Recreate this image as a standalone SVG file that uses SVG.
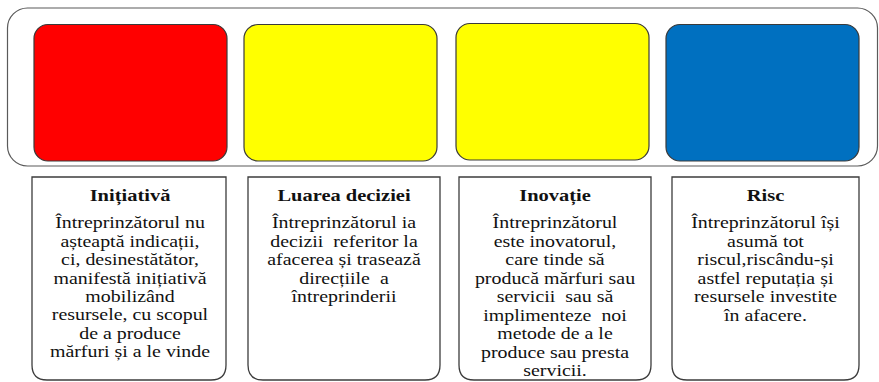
<svg xmlns="http://www.w3.org/2000/svg" width="879" height="382" viewBox="0 0 879 382">
<style>
.frame{fill:#ffffff;stroke:#5a5a5a;stroke-width:1.2}
.tile{stroke:#3a3a3a;stroke-width:1.2}
.card{fill:#ffffff;stroke:#3c3c3c;stroke-width:1.3}
.h{font-family:"Liberation Serif","Times New Roman",serif;font-weight:bold;font-size:17.5px;fill:#111111;text-anchor:middle}
.b{font-family:"Liberation Serif","Times New Roman",serif;font-size:17px;fill:#111111;text-anchor:middle}
</style>
<rect width="879" height="382" fill="#ffffff"/>
<g id="frame">
<rect class="frame" x="7.5" y="8" width="870" height="158" rx="20" ry="20"/>
</g>
<g id="tile-red"><rect class="tile" x="34" y="24.5" width="193" height="136.5" rx="14" fill="#ff0000"/></g>
<g id="tile-yellow-1"><rect class="tile" x="244" y="24.5" width="193" height="136.5" rx="14" fill="#ffff00"/></g>
<g id="tile-yellow-2"><rect class="tile" x="456" y="23.5" width="193" height="136.5" rx="14" fill="#ffff00"/></g>
<g id="tile-blue"><rect class="tile" x="666" y="24.5" width="193" height="136.5" rx="14" fill="#0070c0"/></g>

<g id="card-initiativa">
<path class="card" d="M32 177 H226 V365 Q226 380 211 380 H47 Q32 380 32 365 Z"/>
<g transform="translate(130,0) scale(1.17,1)">
<text class="h" x="0" y="201">Inițiativă</text>
<text class="b" x="0" y="228.5">Întreprinzătorul nu</text>
<text class="b" x="0" y="246.9">așteaptă indicații,</text>
<text class="b" x="0" y="265.3">ci, desinestătător,</text>
<text class="b" x="0" y="283.7">manifestă inițiativă</text>
<text class="b" x="0" y="302.1">mobilizând</text>
<text class="b" x="0" y="320.5">resursele, cu scopul</text>
<text class="b" x="0" y="338.9">de a produce</text>
<text class="b" x="0" y="357.3" xml:space="preserve">mărfuri și a le vinde</text>
</g>
</g>

<g id="card-luarea-deciziei">
<path class="card" d="M248 177 H440 V365 Q440 380 425 380 H263 Q248 380 248 365 Z"/>
<g transform="translate(344,0) scale(1.17,1)">
<text class="h" x="0" y="201">Luarea deciziei</text>
<text class="b" x="0" y="228.5">Întreprinzătorul ia</text>
<text class="b" x="0" y="246.9" xml:space="preserve">decizii  referitor la</text>
<text class="b" x="0" y="265.3">afacerea și trasează</text>
<text class="b" x="0" y="283.7" xml:space="preserve">direcțiile  a</text>
<text class="b" x="0" y="302.1">întreprinderii</text>
</g>
</g>

<g id="card-inovatie">
<path class="card" d="M459 177 H651 V365 Q651 380 636 380 H474 Q459 380 459 365 Z"/>
<g transform="translate(555,0) scale(1.17,1)">
<text class="h" x="0" y="201">Inovație</text>
<text class="b" x="0" y="228.5">Întreprinzătorul</text>
<text class="b" x="0" y="247">este inovatorul,</text>
<text class="b" x="0" y="265.5">care tinde să</text>
<text class="b" x="0" y="284">producă mărfuri sau</text>
<text class="b" x="0" y="302.5" xml:space="preserve">servicii  sau să</text>
<text class="b" x="0" y="321" xml:space="preserve">implimenteze  noi</text>
<text class="b" x="0" y="339.5">metode de a le</text>
<text class="b" x="0" y="358">produce sau presta</text>
<text class="b" x="0" y="376.5">servicii.</text>
</g>
</g>

<g id="card-risc">
<path class="card" d="M672 177 H859 V365 Q859 380 844 380 H687 Q672 380 672 365 Z"/>
<g transform="translate(765.5,0) scale(1.17,1)">
<text class="h" x="0" y="201">Risc</text>
<text class="b" x="0" y="228.5">Întreprinzătorul își</text>
<text class="b" x="0" y="247">asumă tot</text>
<text class="b" x="0" y="265.5">riscul,riscându-și</text>
<text class="b" x="0" y="284">astfel reputația și</text>
<text class="b" x="0" y="302.5">resursele investite</text>
<text class="b" x="0" y="321">în afacere.</text>
</g>
</g>
</svg>
